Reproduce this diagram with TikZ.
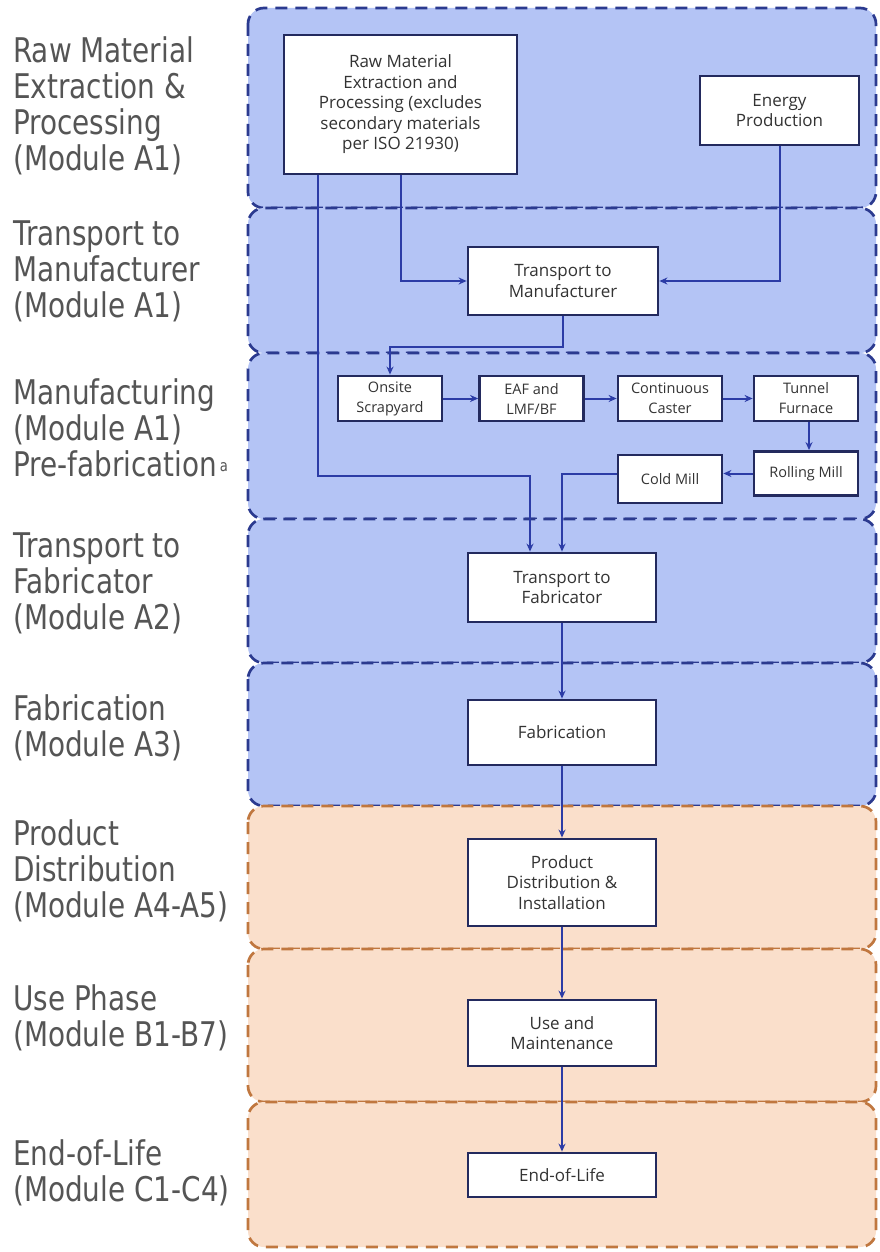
\documentclass[tikz,border=0pt]{standalone}
\usepackage{fontspec}
\setmainfont{DejaVu Sans}
\newfontfamily\lblfont[FakeStretch=0.82]{DejaVu Sans}
\newfontfamily\boxfont{Open Sans}
\usetikzlibrary{arrows.meta}
\definecolor{bluefill}{HTML}{B4C4F5}
\definecolor{blueedge}{HTML}{2B3A8F}
\definecolor{orgfill}{HTML}{FADFCB}
\definecolor{orgedge}{HTML}{C0773F}
\definecolor{boxedge}{HTML}{232A5E}
\definecolor{linecol}{HTML}{2C3CA6}
\definecolor{labelgray}{HTML}{555555}
\begin{document}
\begin{tikzpicture}[x=1pt,y=-1pt,
  panel/.style={line width=2.7pt, dash pattern=on 12pt off 8pt, rounded corners=16pt},
  pblue/.style={panel, fill=bluefill, draw=blueedge},
  porg/.style={panel, fill=orgfill, draw=orgedge},
  lbl/.style={anchor=north west, inner sep=0pt, align=left, text=labelgray,
              font=\lblfont\fontsize{34}{36}\selectfont},
  pbox/.style={draw=boxedge, fill=white, line width=2.8pt, align=center, inner sep=2pt,
               font=\boxfont\fontsize{17}{20.5}\selectfont, text=black!80},
  sbox/.style={pbox, minimum width=104pt, minimum height=45pt,
               font=\boxfont\fontsize{14.5}{20}\selectfont},
  conn/.style={draw=linecol, line width=2pt, -{Stealth[length=8pt,width=7pt]}}
]
\useasboundingbox (0,0) rectangle (879,1252);
\fill[white] (0,0) rectangle (879,1252);

% panels
\draw[pblue] (248,8) rectangle (876,208);
\draw[pblue] (248,208) rectangle (876,353);
\draw[pblue] (248,353) rectangle (876,519);
\draw[pblue] (248,519) rectangle (876,663);
\draw[pblue] (248,663) rectangle (876,806);
\draw[porg] (248,806) rectangle (876,949);
\draw[porg] (248,949) rectangle (876,1102);
\draw[porg] (248,1102) rectangle (876,1247);

% left labels
\node[lbl] (l1) at (13,36) {Raw Material\\Extraction \&\\Processing\\(Module A1)};
\node[lbl] (l2) at (13,221) {Transport to\\Manufacturer\\(Module A1)};
\node[lbl] (l3) at (13,378) {Manufacturing\\(Module A1)\\Pre-fabrication\raisebox{5pt}{\fontsize{16}{16}\selectfont\,a}};
\node[lbl] (l4) at (13,533) {Transport to\\Fabricator\\(Module A2)};
\node[lbl] (l5) at (13,694) {Fabrication\\(Module A3)};
\node[lbl] (l6) at (13,819) {Product\\Distribution\\(Module A4-A5)};
\node[lbl] (l7) at (13,984) {Use Phase\\(Module B1-B7)};
\node[lbl] (l8) at (13,1139) {End-of-Life\\(Module C1-C4)};

% boxes
\node[pbox, minimum width=233pt, minimum height=139pt] (raw) at (400.5,104.5)
  {Raw Material\\Extraction and\\Processing (excludes\\secondary materials\\per ISO 21930)};
\node[pbox, minimum width=159pt, minimum height=69pt] (en) at (779.5,110.5) {Energy\\Production};
\node[pbox, minimum width=190pt, minimum height=68pt] (ttm) at (563,281) {Transport to\\Manufacturer};
\node[sbox] (ons) at (390,398.5) {Onsite\\Scrapyard};
\node[sbox] (eaf) at (531.5,398.5) {EAF and\\LMF/BF};
\node[sbox] (cc) at (670,398.5) {Continuous\\Caster};
\node[sbox] (tf) at (806,398.5) {Tunnel\\Furnace};
\node[sbox, minimum height=44pt] (rm) at (806,473.5) {Rolling Mill};
\node[sbox, minimum height=48pt] (cm) at (670,479) {Cold Mill};
\node[pbox, minimum width=188pt, minimum height=69pt] (ttf) at (562,587.5) {Transport to\\Fabricator};
\node[pbox, minimum width=188pt, minimum height=65pt] (fab) at (562,732.5) {Fabrication};
\node[pbox, minimum width=188pt, minimum height=87pt] (pd) at (562,882.5) {Product\\Distribution \&\\Installation};
\node[pbox, minimum width=188pt, minimum height=66pt] (use) at (562,1033) {Use and\\Maintenance};
\node[pbox, minimum width=188pt, minimum height=44pt] (eol) at (562,1175) {End-of-Life};

% connectors
\draw[conn] ([xshift=35pt]raw.south west) -- ++(0,301) -| ([xshift=-32pt]ttf.north);
\draw[conn] (raw.south) |- (ttm.west);
\draw[conn] (en.south) |- (ttm.east);
\draw[conn] (ttm.south) -- ++(0,31) -| (ons.north);
\draw[conn] (ons) -- (eaf);
\draw[conn] (eaf) -- (cc);
\draw[conn] (cc) -- (tf);
\draw[conn] ([xshift=3pt]tf.south) -- ([xshift=3pt]rm.north);
\draw[conn] (rm.west) -- (rm.west -| cm.east);
\draw[conn] (rm.west -| cm.west) -| (ttf.north);
\draw[conn] (ttf) -- (fab);
\draw[conn] (fab) -- (pd);
\draw[conn] (pd) -- (use);
\draw[conn] (use) -- (eol);
\end{tikzpicture}
\end{document}
